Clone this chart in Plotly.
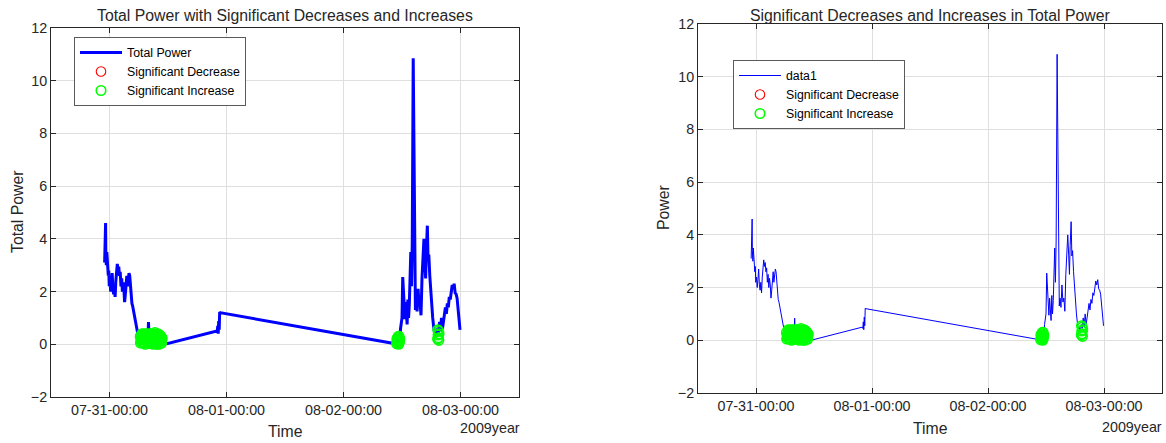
import pandas as pd
import plotly.graph_objects as go

BASE = pd.Timestamp("2009-07-31 00:00")

# Total active power, hours after 2009-07-31 00:00
power_hours = [
    -1.0, -0.95, -0.9, -0.85, -0.8, -0.75, -0.65, -0.55, -0.45, -0.35, -0.25, -0.15, -0.05,
    0.1, 0.25, 0.4, 0.55, 0.7, 0.85, 1.0, 1.15, 1.3, 1.45, 1.6, 1.75, 1.9, 2.05, 2.2, 2.35,
    2.5, 2.65, 2.8, 2.95, 3.1, 3.25, 3.4, 3.55, 3.7, 3.85, 4.0, 4.15, 4.3, 4.45, 4.6, 4.75,
    4.9, 5.05, 5.2, 5.35, 5.5, 5.65, 5.8, 5.95,
    6.1, 6.3, 6.5, 6.7, 6.9, 7.1, 7.3, 7.5, 7.7, 7.9, 8.0, 8.1, 8.3, 8.5, 8.7, 8.9, 9.1,
    9.3, 9.5, 9.7, 9.9, 10.1, 10.3, 10.5, 10.7, 10.9, 11.1, 11.4, 11.8,
    22.0, 22.1, 22.2, 22.3, 22.4, 22.5, 22.6, 22.7,
    58.7, 58.9, 59.1, 59.25, 59.4, 59.55, 59.7, 59.85, 60.0, 60.15, 60.3, 60.45, 60.6,
    60.75, 60.9, 61.05, 61.2, 61.35, 61.5, 61.65, 61.8, 61.95, 62.1, 62.3, 62.4, 62.5,
    62.6, 62.75, 62.9, 63.1, 63.3, 63.5, 63.7, 63.9, 64.1, 64.3, 64.5, 64.7, 64.85, 65.0,
    65.2, 65.35, 65.5, 65.7, 65.9, 66.1, 66.3, 66.5, 66.7, 66.9, 67.1, 67.3, 67.5, 67.7,
    67.9, 68.1, 68.3, 68.5, 68.7, 68.9, 69.1, 69.3, 69.5, 69.7, 69.9, 70.1, 70.3, 70.5,
    70.7, 70.9, 71.1, 71.3, 71.5, 71.7, 71.9,
]
power_values = [
    3.1, 3.7, 3.3, 4.2, 4.6, 3.4, 3.0, 3.5, 2.9, 3.1, 2.6, 2.8, 2.2,
    2.4, 2.0, 2.3, 2.7, 2.1, 1.9, 2.2, 1.8, 2.4, 2.9, 3.05, 2.8, 2.95, 2.6, 2.75, 2.2,
    2.5, 2.0, 2.35, 2.1, 1.6, 1.9, 2.4, 2.6, 2.2, 2.5, 2.7, 2.6, 2.1, 1.8, 1.55, 1.45,
    1.3, 1.05, 0.9, 0.7, 0.55, 0.4, 0.3, 0.25,
    0.15, 0.3, 0.1, 0.35, 0.2, 0.05, 0.25, 0.4, 0.15, 0.3, 0.84, 0.35, 0.2, 0.4, 0.1, 0.3, 0.2,
    0.45, 0.15, 0.3, 0.05, 0.25, 0.1, 0.3, 0.05, 0.2, 0.0, 0.05, 0.02,
    0.5, 0.45, 0.7, 0.4, 0.88, 0.55, 1.22, 1.2,
    0.02, 0.1, 0.25, 0.05, 0.3, 0.15, 0.6, 0.75, 1.0, 2.55, 2.1, 1.5, 0.95,
    1.6, 0.9, 0.75, 1.7, 1.0, 1.5, 2.9, 3.5, 2.2, 3.8, 10.85, 8.3, 7.9,
    4.4, 1.3, 1.6, 1.25, 2.1, 1.45, 1.6, 1.1, 2.5, 3.5, 4.0, 3.2, 2.5, 3.6,
    4.5, 3.2, 3.4, 2.6, 1.9, 1.35, 1.0, 0.65, 0.4, 0.5, 0.3, 0.6, 0.45, 0.85,
    0.5, 1.0, 0.6, 0.85, 1.2, 1.4, 1.15, 1.55, 1.4, 1.8, 1.7, 2.05, 2.25, 2.1,
    2.3, 1.95, 1.9, 1.75, 1.3, 0.9, 0.55,
]

# Significant increases
inc_hours = [
    6.3, 6.35, 6.45, 6.5, 6.6, 6.65, 6.7, 6.8, 6.9, 6.95, 7.0, 7.1, 7.15, 7.2, 7.3, 7.35,
    7.4, 7.5, 7.55, 7.6, 7.7, 7.75, 7.8, 7.9, 7.95, 8.1, 8.15, 8.2, 8.3, 8.35, 8.4, 8.5,
    8.55, 8.6, 8.7, 8.75, 8.8, 8.9, 8.95, 9.0, 9.1, 9.15, 9.2, 9.3, 9.35, 9.4, 9.5, 9.55,
    9.6, 9.7, 9.75, 9.8, 9.9, 9.95, 10.0, 10.1, 10.15, 10.2, 10.3, 10.35, 10.4, 10.5,
    10.55, 10.6, 10.7, 10.75, 10.8,
    58.9, 58.95, 59.0, 59.05, 59.1, 59.15, 59.2, 59.25, 59.3, 59.35, 59.4, 59.45, 59.5,
    59.55,
    67.3, 67.35, 67.4, 67.45, 67.5, 67.55, 67.6,
]
inc_values = [
    0.3, 0.05, 0.2, 0.1, 0.2, 0.4, 0.35, 0.05, 0.2, 0.3, 0.4, 0.05, 0.25, 0.15, 0.25, 0.0,
    0.35, 0.4, 0.2, 0.1, 0.15, 0.4, 0.3, 0.3, 0.05, 0.35, 0.2, 0.05, 0.2, 0.4, 0.3, 0.4,
    0.05, 0.15, 0.1, 0.25, 0.35, 0.3, 0.0, 0.05, 0.2, 0.3, 0.4, 0.45, 0.1, 0.25, 0.15, 0.35,
    0.05, 0.3, 0.0, 0.2, 0.05, 0.4, 0.35, 0.25, 0.0, 0.1, 0.1, 0.35, 0.3, 0.3,
    0.05, 0.15, 0.05, 0.25, 0.2,
    0.02, 0.2, 0.1, 0.18, 0.25, 0.05, 0.05, 0.3, 0.15, 0.0, 0.3, 0.1, 0.12,
    0.2,
    0.2, 0.55, 0.35, 0.25, 0.5, 0.15, 0.4,
]

# Significant decreases
dec_hours = [7.1, 8.2, 9.6, 59.2]
dec_values = [0.05, 0.05, 0.05, 0.05]

x_tick_dates = ["2009-07-31", "2009-08-01", "2009-08-02", "2009-08-03"]
y_tick_values = [-2, 0, 2, 4, 6, 8, 10, 12]
x_range = ["2009-07-30 12:00", "2009-08-03 12:00"]
y_range = [-2, 12]


def to_time(hours):
    return [BASE + pd.Timedelta(hours=h) for h in hours]


W, H = 1166, 443
FONT = "Liberation Sans, Arial, Helvetica, sans-serif"
INK = "rgb(38,38,38)"
BLUE = "rgb(0,0,255)"
GREEN = "rgb(0,255,0)"
RED = "rgb(255,0,0)"


def px(x):
    return x / W


def py(y):
    return 1 - y / H


t_power = to_time(power_hours)
t_inc = to_time(inc_hours)
t_dec = to_time(dec_hours)

fig = go.Figure()

panels = [
    dict(xa="x", ya="y", leg="legend", width=3, line_name="Total Power"),
    dict(xa="x2", ya="y2", leg="legend2", width=1, line_name="data1"),
]
for p in panels:
    fig.add_trace(go.Scatter(
        x=t_power, y=power_values, mode="lines", name=p["line_name"],
        line=dict(color=BLUE, width=p["width"]),
        xaxis=p["xa"], yaxis=p["ya"], legend=p["leg"],
    ))
    fig.add_trace(go.Scatter(
        x=t_dec, y=dec_values, mode="markers", name="Significant Decrease",
        marker=dict(symbol="circle-open", size=9.5, color=RED, line=dict(width=1.1, color=RED)),
        xaxis=p["xa"], yaxis=p["ya"], legend=p["leg"],
    ))
    fig.add_trace(go.Scatter(
        x=t_inc, y=inc_values, mode="markers", name="Significant Increase",
        marker=dict(symbol="circle-open", size=9.5, color=GREEN, line=dict(width=1.6, color=GREEN)),
        xaxis=p["xa"], yaxis=p["ya"], legend=p["leg"],
    ))

axis_style = dict(
    showline=True, linecolor=INK, linewidth=1, mirror="ticks",
    ticks="inside", ticklen=5, tickwidth=1, tickcolor=INK,
    showgrid=True, gridcolor="rgb(223,223,223)", gridwidth=1,
    zeroline=False, automargin=False,
    tickfont=dict(family=FONT, size=14.3, color=INK),
)
xaxis_style = dict(axis_style, type="date", range=x_range,
                   tickvals=x_tick_dates, tickformat="%m-%d-%H:%M")
yaxis_style = dict(axis_style, range=y_range, tickvals=y_tick_values)

left_box = (51, 519, 28, 397)
right_box = (698, 1162, 24, 393)

legend_style = dict(
    xanchor="left", yanchor="top",
    bgcolor="white", bordercolor="rgb(90,90,90)", borderwidth=1,
    font=dict(family=FONT, size=12.3, color="black"),
    itemwidth=42, tracegroupgap=0,
)

fig.update_layout(
    width=W, height=H,
    margin=dict(l=0, r=0, t=0, b=0),
    paper_bgcolor="white", plot_bgcolor="white",
    font=dict(family=FONT, color=INK),
    xaxis=dict(xaxis_style, domain=[px(left_box[0]), px(left_box[1])], anchor="y"),
    yaxis=dict(yaxis_style, domain=[py(left_box[3]), py(left_box[2])], anchor="x"),
    xaxis2=dict(xaxis_style, domain=[px(right_box[0]), px(right_box[1])], anchor="y2"),
    yaxis2=dict(yaxis_style, domain=[py(right_box[3]), py(right_box[2])], anchor="x2"),
    legend=dict(legend_style, x=px(74), y=py(37)),
    legend2=dict(legend_style, x=px(733), y=py(60)),
    showlegend=True,
)

texts = [
    ("Total Power with Significant Decreases and Increases", 285, 15, 0),
    ("Significant Decreases and Increases in Total Power", 930, 15, 0),
    ("Time", 285, 431, 0),
    ("Time", 930, 428, 0),
    ("Total Power", 17, 212, -90),
    ("Power", 663, 208, -90),
]
for txt, x, y, angle in texts:
    fig.add_annotation(
        text=txt, x=px(x), y=py(y), xref="paper", yref="paper",
        xanchor="center", yanchor="middle", showarrow=False, textangle=angle,
        font=dict(family=FONT, size=15.8, color=INK),
    )

for x_right, y in [(522, 428), (1164, 427)]:
    fig.add_annotation(
        text="2009year", x=px(x_right), y=py(y), xref="paper", yref="paper",
        xanchor="right", yanchor="middle", showarrow=False,
        font=dict(family=FONT, size=14.3, color=INK),
    )

fig.write_html("out.html")
